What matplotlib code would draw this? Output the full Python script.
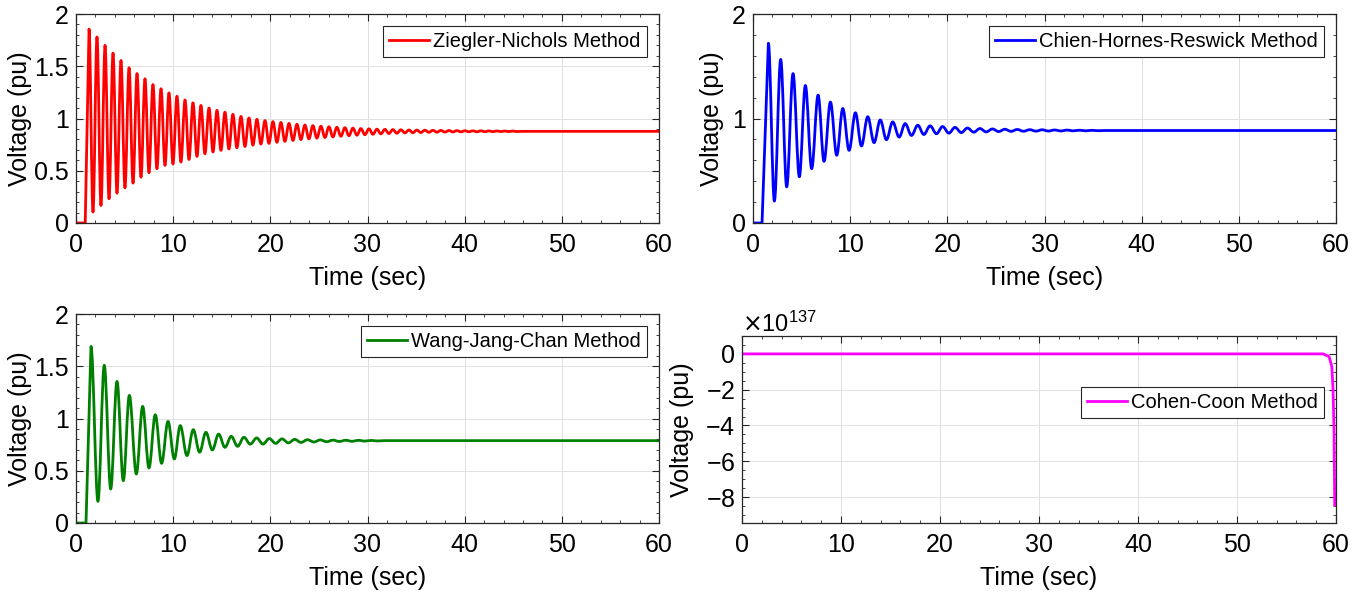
import matplotlib
matplotlib.use("Agg")
import matplotlib.pyplot as plt
from matplotlib.ticker import MultipleLocator, FuncFormatter
from matplotlib.path import Path
from matplotlib.patches import PathPatch
from matplotlib.lines import Line2D
import numpy as np

plt.rcParams['font.family'] = ['Liberation Sans', 'DejaVu Sans']
plt.rcParams['axes.unicode_minus'] = False

# ---------------- data ----------------
# Ziegler-Nichols: start, peaks, troughs, final
zn_start_t = [0.0, 0.95]
zn_start_v = [0.0, 0.0]
zn_peak_t = [1.34, 2.16, 2.99, 3.81, 4.63, 5.46, 6.28, 7.10, 7.92, 8.75,
             9.57, 10.39, 11.22, 12.04, 12.86, 13.69, 14.51, 15.33, 16.15, 16.98,
             17.80, 18.62, 19.45, 20.27, 21.09, 21.92, 22.74, 23.56, 24.38, 25.21,
             26.03, 26.85, 27.68, 28.50, 29.32, 30.15, 30.97, 31.79, 32.61, 33.44,
             34.26, 35.08, 35.91, 36.73, 37.55, 38.38, 39.20, 40.02, 40.84, 41.67,
             42.49, 43.31, 44.14, 44.96]
zn_peak_v = [1.855, 1.78, 1.70, 1.625, 1.555, 1.485, 1.43, 1.38, 1.325, 1.285,
             1.245, 1.213, 1.177, 1.15, 1.125, 1.10, 1.078, 1.06, 1.04, 1.02,
             1.005, 0.992, 0.98, 0.97, 0.962, 0.953, 0.945, 0.938, 0.932, 0.926,
             0.921, 0.916, 0.912, 0.908, 0.904, 0.901, 0.898, 0.896, 0.894, 0.892,
             0.890, 0.889, 0.888, 0.887, 0.886, 0.885, 0.884, 0.883, 0.882, 0.882,
             0.881, 0.881, 0.880, 0.880]
zn_trough_t = [1.75, 2.57, 3.40, 4.22, 5.04, 5.87, 6.69, 7.51, 8.33, 9.16,
               9.98, 10.80, 11.63, 12.45, 13.27, 14.10, 14.92, 15.74, 16.56, 17.39,
               18.21, 19.03, 19.86, 20.68, 21.50, 22.33, 23.15, 23.97, 24.79, 25.62,
               26.44, 27.26, 28.09, 28.91, 29.73, 30.56, 31.38, 32.20, 33.02, 33.85,
               34.67, 35.49, 36.32, 37.14, 37.96, 38.79, 39.61, 40.43, 41.25, 42.08,
               42.90, 43.72, 44.55, 45.37]
zn_trough_v = [0.105, 0.168, 0.232, 0.286, 0.337, 0.382, 0.439, 0.481, 0.519, 0.551,
               0.565, 0.583, 0.608, 0.637, 0.663, 0.68, 0.695, 0.708, 0.72, 0.732,
               0.745, 0.755, 0.762, 0.772, 0.781, 0.79, 0.798, 0.805, 0.812, 0.818,
               0.824, 0.83, 0.835, 0.84, 0.845, 0.849, 0.853, 0.856, 0.859, 0.862,
               0.864, 0.866, 0.868, 0.869, 0.870, 0.871, 0.872, 0.873, 0.873, 0.874,
               0.874, 0.875, 0.875, 0.875]
zn_end_t = [60.0]
zn_end_v = [0.877]

# Chien-Hrones-Reswick
chr_start_t = [0.0, 0.93]
chr_start_v = [0.0, 0.0]
chr_peak_t = [1.58, 2.85, 4.12, 5.39, 6.70, 7.97, 9.24, 10.54, 11.81, 13.10,
              14.38, 15.66, 16.96, 18.23, 19.51, 20.79, 22.07, 23.35, 24.64, 25.92,
              27.20, 28.48, 29.76, 31.04, 32.32, 33.60, 34.88]
chr_peak_v = [1.72, 1.565, 1.43, 1.316, 1.224, 1.157, 1.096, 1.055, 1.017, 0.986,
              0.967, 0.951, 0.936, 0.93, 0.923, 0.915, 0.909, 0.904, 0.90, 0.897,
              0.895, 0.893, 0.892, 0.89, 0.889, 0.888, 0.887]
chr_trough_t = [2.20, 3.47, 4.77, 6.04, 7.31, 8.62, 9.89, 11.16, 12.46, 13.73,
                15.04, 16.31, 17.58, 18.88, 20.16, 21.44, 22.72, 24.00, 25.28, 26.56,
                27.84, 29.12, 30.40, 31.68, 32.96, 34.24, 35.52]
chr_trough_v = [0.21, 0.346, 0.442, 0.52, 0.59, 0.648, 0.695, 0.737, 0.769, 0.797,
                0.822, 0.838, 0.847, 0.854, 0.86, 0.865, 0.869, 0.872, 0.875, 0.877,
                0.878, 0.879, 0.88, 0.881, 0.882, 0.882, 0.883]
chr_end_t = [60.0]
chr_end_v = [0.885]

# Wang-Jang-Chan
wjc_start_t = [0.0, 1.03]
wjc_start_v = [0.0, 0.0]
wjc_peak_t = [1.54, 2.91, 4.22, 5.49, 6.86, 8.16, 9.47, 10.73, 12.07, 13.37,
              14.68, 15.98, 17.28, 18.59, 19.89, 21.20, 22.51, 23.82, 25.14, 26.45,
              27.76, 29.07, 30.38]
wjc_peak_v = [1.69, 1.509, 1.355, 1.221, 1.116, 1.036, 0.972, 0.932, 0.893, 0.868,
              0.851, 0.829, 0.82, 0.814, 0.808, 0.805, 0.80, 0.797, 0.795, 0.793,
              0.792, 0.791, 0.79]
wjc_trough_t = [2.26, 3.57, 4.87, 6.21, 7.51, 8.81, 10.12, 11.42, 12.72, 14.03,
                15.33, 16.63, 17.94, 19.24, 20.55, 21.86, 23.17, 24.48, 25.79, 27.10,
                28.41, 29.73, 31.04]
wjc_trough_v = [0.207, 0.325, 0.405, 0.469, 0.527, 0.571, 0.613, 0.645, 0.677, 0.699,
                0.724, 0.734, 0.755, 0.755, 0.762, 0.767, 0.771, 0.775, 0.778, 0.78,
                0.782, 0.784, 0.785]
wjc_end_t = [60.0]
wjc_end_v = [0.788]

# Cohen-Coon (values in units of 1e137)
cc_t = [0.0, 58.7, 59.3, 59.58, 59.7, 59.8, 59.87]
cc_v = [0.0, 0.0, -0.15, -0.71, -2.0, -4.25, -8.44]
cc_scale = 1e137

LW = 2.0


def response_path(st, sv, pt, pv, tt, tv, et, ev):
    """Straight start/end segments, smooth (horizontal-tangent) curves
    between successive extrema."""
    ext_t, ext_v = [], []
    for a, b, c, d in zip(pt, pv, tt, tv):
        ext_t += [a, c]
        ext_v += [b, d]
    verts = [(st[0], sv[0])]
    codes = [Path.MOVETO]
    for x, y in zip(st[1:], sv[1:]):
        verts.append((x, y))
        codes.append(Path.LINETO)
    verts.append((ext_t[0], ext_v[0]))
    codes.append(Path.LINETO)
    k = 0.36
    for i in range(1, len(ext_t)):
        t0, v0 = ext_t[i - 1], ext_v[i - 1]
        t1, v1 = ext_t[i], ext_v[i]
        dt = t1 - t0
        verts += [(t0 + k * dt, v0), (t1 - k * dt, v1), (t1, v1)]
        codes += [Path.CURVE4] * 3
    t0, v0 = ext_t[-1], ext_v[-1]
    t1, v1 = t0 + (ext_t[-1] - ext_t[-2]), ev[0]
    verts += [(t0 + k * (t1 - t0), v0), (t1 - k * (t1 - t0), v1), (t1, v1)]
    codes += [Path.CURVE4] * 3
    verts.append((et[0], ev[0]))
    codes.append(Path.LINETO)
    return Path(verts, codes)


fig = plt.figure(figsize=(13.62, 5.96), dpi=100)
W, H = 1362.0, 596.0


def axes_px(x0, y0, x1, y1):
    return fig.add_axes([x0 / W, 1 - y1 / H, (x1 - x0) / W, (y1 - y0) / H])


fmt_g = FuncFormatter(lambda x, p: '%g' % x)


def style(ax, ymajor, yminor, ylab_x, xlab_y, gfmt=True):
    ax.set_xlim(0, 60)
    ax.xaxis.set_major_locator(MultipleLocator(10))
    ax.xaxis.set_minor_locator(MultipleLocator(2))
    ax.yaxis.set_major_locator(MultipleLocator(ymajor))
    ax.yaxis.set_minor_locator(MultipleLocator(yminor))
    if gfmt:
        ax.yaxis.set_major_formatter(fmt_g)
    ax.tick_params(which='both', direction='in', top=True, right=True,
                   colors='#262626', labelcolor='black', labelsize=18)
    ax.tick_params(which='major', length=5, width=0.8)
    ax.tick_params(axis='x', which='major', pad=7)
    ax.tick_params(axis='y', which='major', pad=5)
    ax.tick_params(which='minor', length=2.5, width=0.6)
    for s in ax.spines.values():
        s.set_color('#262626')
        s.set_linewidth(0.9)
    ax.grid(True, which='major', color='#e0e0e0', linewidth=0.7)
    ax.set_axisbelow(True)
    ax.set_xlabel('Time (sec)', fontsize=18)
    ax.set_ylabel('Voltage (pu)', fontsize=18)
    ax.yaxis.set_label_coords(ylab_x, 0.5)
    ax.xaxis.set_label_coords(0.5, xlab_y)


def legend(ax, color, label, **kw):
    h = Line2D([], [], color=color, lw=LW)
    lg = ax.legend([h], [label], fontsize=14.5, fancybox=False,
                   edgecolor='#262626', framealpha=1, borderpad=0.3,
                   handlelength=2.0, handletextpad=0.2, borderaxespad=0.6, **kw)
    lg.get_frame().set_linewidth(0.8)
    return lg


def draw_series(ax, color, *arrays):
    path = response_path(*arrays)
    ax.add_patch(PathPatch(path, fill=False, edgecolor=color, lw=LW,
                           capstyle='round', joinstyle='round'))


# top-left: ZN
ax1 = axes_px(76, 14, 659, 223)
draw_series(ax1, '#ff0000',
            zn_start_t, zn_start_v, zn_peak_t, zn_peak_v,
            zn_trough_t, zn_trough_v, zn_end_t, zn_end_v)
ax1.set_ylim(0, 2)
style(ax1, 0.5, 0.1, -0.075, -0.205)
legend(ax1, '#ff0000', 'Ziegler-Nichols Method', loc='upper right')

# top-right: CHR
ax2 = axes_px(753, 14, 1336, 223)
draw_series(ax2, '#0000ff',
            chr_start_t, chr_start_v, chr_peak_t, chr_peak_v,
            chr_trough_t, chr_trough_v, chr_end_t, chr_end_v)
ax2.set_ylim(0, 2)
style(ax2, 1, 0.2, -0.05, -0.205)
legend(ax2, '#0000ff', 'Chien-Hornes-Reswick Method', loc='upper right')

# bottom-left: WJC
ax3 = axes_px(76, 314, 659, 523)
draw_series(ax3, '#008000',
            wjc_start_t, wjc_start_v, wjc_peak_t, wjc_peak_v,
            wjc_trough_t, wjc_trough_v, wjc_end_t, wjc_end_v)
ax3.set_ylim(0, 2)
style(ax3, 0.5, 0.1, -0.075, -0.205)
legend(ax3, '#008000', 'Wang-Jang-Chan Method', loc='upper right')

# bottom-right: Cohen-Coon
ax4 = axes_px(742, 336, 1336, 523)
ax4.plot(np.array(cc_t), np.array(cc_v) * cc_scale, color='#ff00ff', lw=LW)
ax4.set_ylim(-9.45 * cc_scale, 1.0 * cc_scale)
style(ax4, 2 * cc_scale, 0.5 * cc_scale, -0.08, -0.23, gfmt=False)
ax4.ticklabel_format(axis='y', style='sci', scilimits=(0, 0), useMathText=True)
ax4.yaxis.get_offset_text().set_fontsize(17)
legend(ax4, '#ff00ff', 'Cohen-Coon Method', loc='upper right',
       bbox_to_anchor=(1.0, 0.79))

fig.savefig('out.png', dpi=100)
